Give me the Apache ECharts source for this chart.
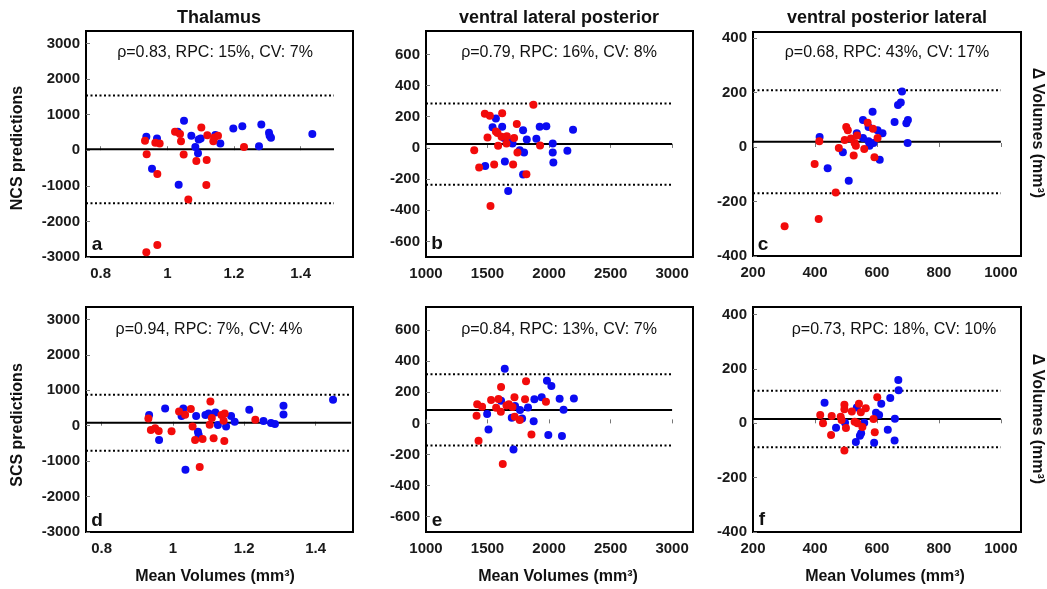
<!DOCTYPE html>
<html>
<head>
<meta charset="utf-8">
<title>Bland-Altman plots</title>
<style>
  html, body { margin: 0; padding: 0; background: #fff; }
  #main { width: 1047px; height: 589px; }
</style>
</head>
<body>
<div id="main"></div>
<script src="https://cdn.jsdelivr.net/npm/echarts@6/dist/echarts.min.js"></script>
<script>
  // tick labels
  let thalTicksX = [0.8, 1, 1.2, 1.4];
  let thalTicksY = [-3000, -2000, -1000, 0, 1000, 2000, 3000];
  let vlpTicksX = [1000, 1500, 2000, 2500, 3000];
  let vlpTicksY = [-600, -400, -200, 0, 200, 400, 600];
  let vplTicksX = [200, 400, 600, 800, 1000];
  let vplTicksY = [-400, -200, 0, 200, 400];

  // [mean, upper limit, lower limit]
  let aLines = [30, 1540, -1490];
  let bLines = [25, 285, -236];
  let cLines = [19, 208, -170];
  let dLines = [85, 875, -710];
  let eLines = [87, 316, -142];
  let fLines = [16, 120, -88];

  let stats = [
    'ρ=0.83, RPC: 15%, CV: 7%', 'ρ=0.79, RPC: 16%, CV: 8%', 'ρ=0.68, RPC: 43%, CV: 17%',
    'ρ=0.94, RPC: 7%, CV: 4%', 'ρ=0.84, RPC: 13%, CV: 7%', 'ρ=0.73, RPC: 18%, CV: 10%'
  ];
  let titles = ['Thalamus', 'ventral lateral posterior', 'ventral posterior lateral'];

  // panel a (NCS, thalamus)
  let aBlue = [[0.937,376],[0.969,329],[0.954,-517],[1.05,828],[1.034,-969],[1.031,520],[1.072,405],[1.084,94],
    [1.092,-84],[1.094,301],[1.10,329],[1.144,430],[1.159,188],[1.198,611],[1.225,677],[1.282,724],[1.275,113],
    [1.305,489],[1.307,405],[1.311,348],[1.435,455]];
  let aRed = [[0.933,263],[0.938,-113],[0.937,-2869],[0.964,207],[0.97,-668],[0.97,-2662],[0.977,188],[1.023,517],
    [1.038,455],[1.041,254],[1.049,-122],[1.063,-1383],[1.087,-301],[1.102,640],[1.118,-273],[1.117,-975],
    [1.12,423],[1.138,254],[1.141,357],[1.152,405],[1.23,94]];

  // panel b (NCS, VLP)
  let bBlue = [[1481,-116],[1541,133],[1568,189],[1619,135],[1635,64],[1641,-88],[1662,49],[1668,-277],[1703,28],
    [1762,-15],[1789,114],[1789,-171],[1797,-30],[1819,54],[1897,58],[1924,135],[1978,139],[2030,28],[2030,-30],
    [2035,-94],[2149,-19],[2195,116]];
  let bRed = [[1392,-15],[1432,-126],[1478,219],[1500,66],[1519,206],[1524,-373],[1554,-107],[1568,105],[1581,96],
    [1586,13],[1614,71],[1619,223],[1654,28],[1657,75],[1708,-107],[1716,64],[1738,154],[1743,-30],[1816,-169],
    [1873,277],[1927,15]];

  // panel c (NCS, VPL)
  let cBlue = [[415,37],[441,-78],[490,-19],[509,-124],[535,50],[555,99],[555,33],[573,73],[573,21],[576,5],
    [586,129],[589,15],[602,61],[609,-47],[618,50],[657,92],[668,154],[677,163],[681,204],[695,87],[700,99],[699,15]];
  let cRed = [[302,-291],[399,-62],[414,21],[412,-264],[467,-167],[477,-4],[496,26],[501,73],[506,61],[516,31],
    [525,-31],[528,15],[532,5],[536,42],[559,-7],[570,89],[587,67],[592,-38],[602,33]];

  // panel d (SCS, thalamus)
  let dBlue = [[0.933,301],[0.961,-403],[0.978,488],[1.024,273],[1.029,488],[1.035,-1241],[1.065,273],[1.07,-169],
    [1.072,-254],[1.091,301],[1.10,347],[1.119,375],[1.126,20],[1.149,-20],[1.163,273],[1.173,113],[1.214,451],
    [1.254,132],[1.275,76],[1.286,48],[1.31,564],[1.31,319],[1.449,733]];
  let dRed = [[0.931,206],[0.938,-122],[0.95,-75],[0.96,-150],[0.996,-160],[1.017,404],[1.034,310],[1.05,470],
    [1.055,-20],[1.062,-403],[1.075,-1165],[1.083,-376],[1.105,686],[1.103,28],[1.109,216],[1.114,-357],
    [1.136,301],[1.142,141],[1.144,-432],[1.145,347],[1.231,169]];

  // panel e (SCS, VLP)
  let eBlue = [[1640,352],[1497,60],[1508,-39],[1610,146],[1697,36],[1724,112],[1764,86],[1781,32],[1711,-168],
    [1829,103],[1875,13],[1881,155],[1940,168],[1983,275],[2019,241],[1994,-75],[2086,159],[2105,-82],[2118,88],
    [2202,161]];
  let eRed = [[1416,123],[1411,49],[1456,107],[1427,-112],[1529,150],[1589,157],[1570,101],[1610,234],[1608,75],
    [1624,-261],[1654,116],[1673,123],[1703,105],[1719,168],[1721,43],[1762,21],[1805,155],[1813,271],
    [1857,-71],[1975,139]];

  // panel f (SCS, VPL)
  let fBlue = [[431,76],[468,-16],[497,2],[532,-69],[535,58],[545,-46],[549,-37],[559,2],[591,-72],[597,39],
    [607,31],[614,72],[635,-24],[643,93],[658,17],[657,-63],[669,159],[670,122]];
  let fRed = [[417,31],[426,0],[454,27],[452,-43],[483,24],[486,12],[495,68],[495,52],[500,-17],[495,-100],
    [519,43],[528,6],[542,72],[548,41],[564,55],[537,0],[553,-14],[589,16],[593,-33],[601,96]];

  const FONT = '"Liberation Sans", Arial, Helvetica, sans-serif';
  const BLUE = '#0b0bf2';
  const RED = '#f20b0b';

  let panels = [
    { grid: { left: 86, top: 31, width: 267, height: 226 }, x: [0.756, 1.557], xEnd: 1.5, y: [-3000, 3350],
      xt: thalTicksX, yt: thalTicksY, blue: aBlue, red: aRed, lines: aLines },
    { grid: { left: 426, top: 31, width: 267, height: 226 }, x: [1000, 3170], xEnd: 3000, y: [-700, 750],
      xt: vlpTicksX, yt: vlpTicksY, blue: bBlue, red: bRed, lines: bLines },
    { grid: { left: 753, top: 32, width: 268, height: 224 }, x: [200, 1065], xEnd: 1000, y: [-400, 422],
      xt: vplTicksX, yt: vplTicksY, blue: cBlue, red: cRed, lines: cLines },
    { grid: { left: 86, top: 307, width: 267, height: 225 }, x: [0.756, 1.505], xEnd: 1.5, y: [-3000, 3350],
      xt: thalTicksX, yt: thalTicksY, blue: dBlue, red: dRed, lines: dLines },
    { grid: { left: 426, top: 307, width: 267, height: 225 }, x: [1000, 3170], xEnd: 3000, y: [-700, 750],
      xt: vlpTicksX, yt: vlpTicksY, blue: eBlue, red: eRed, lines: eLines },
    { grid: { left: 753, top: 307, width: 268, height: 225 }, x: [200, 1065], xEnd: 1000, y: [-400, 428],
      xt: vplTicksX, yt: vplTicksY, blue: fBlue, red: fRed, lines: fLines }
  ];

  let plain = v => String(v);
  let grids = [], xAxes = [], yAxes = [], series = [];
  panels.forEach((p, i) => {
    grids.push(Object.assign({ show: true, borderColor: '#000', borderWidth: 2, backgroundColor: 'transparent' }, p.grid));
    let labelStyle = { fontFamily: FONT, fontSize: 15, fontWeight: 'bold', color: '#1a1a1a', formatter: plain };
    xAxes.push({
      gridIndex: i, type: 'value', min: p.x[0], max: p.x[1],
      axisLine: { show: false }, splitLine: { show: false },
      axisTick: { show: true, inside: true, length: 4, customValues: p.xt, lineStyle: { color: '#777' } },
      axisLabel: Object.assign({ customValues: p.xt, margin: 9 }, labelStyle)
    });
    yAxes.push({
      gridIndex: i, type: 'value', min: p.y[0], max: p.y[1],
      axisLine: { show: false }, splitLine: { show: false },
      axisTick: { show: true, inside: true, length: 4, customValues: p.yt, lineStyle: { color: '#777' } },
      axisLabel: Object.assign({ customValues: p.yt, margin: 6 }, labelStyle)
    });
    let x0 = p.x[0];
    let mkLine = (v, dotted) => ({
      type: 'line', xAxisIndex: i, yAxisIndex: i, symbol: 'none', silent: true,
      data: [[x0, v], [p.xEnd, v]],
      lineStyle: { color: '#000', width: 2, type: dotted ? [2, 2.5] : 'solid' }, z: 1
    });
    series.push(mkLine(p.lines[0], false), mkLine(p.lines[1], true), mkLine(p.lines[2], true));
    series.push({ type: 'scatter', xAxisIndex: i, yAxisIndex: i, data: p.blue, symbolSize: 8,
      itemStyle: { color: BLUE, opacity: 1 }, z: 3 });
    series.push({ type: 'scatter', xAxisIndex: i, yAxisIndex: i, data: p.red, symbolSize: 8,
      itemStyle: { color: RED, opacity: 1 }, z: 4 });
  });

  let txt = (x, y, text, size, weight, rot) => ({
    type: 'text', x: x, y: y, rotation: rot || 0, silent: true,
    style: { text: text, fontFamily: FONT, fontSize: size, fontWeight: weight, fill: '#111',
      align: 'center', verticalAlign: 'middle' }
  });

  let graphics = [];
  let colCenter = [219, 559, 887];
  titles.forEach((t, k) => graphics.push(txt(colCenter[k], 18, t, 18, 'bold')));
  let statPos = [[215, 53], [559, 53], [887, 53], [209, 330], [559, 330], [894, 330]];
  stats.forEach((s, k) => graphics.push(txt(statPos[k][0], statPos[k][1], s, 16, 'normal')));
  let letters = ['a', 'b', 'c', 'd', 'e', 'f'];
  let letterPos = [[97, 245], [437, 244], [763, 245], [97, 521], [437, 521], [762, 520]];
  letters.forEach((l, k) => graphics.push(txt(letterPos[k][0], letterPos[k][1], l, 19, 'bold')));
  graphics.push(txt(18, 148, 'NCS predictions', 16, 'bold', Math.PI / 2));
  graphics.push(txt(18, 425, 'SCS predictions', 16, 'bold', Math.PI / 2));
  graphics.push(txt(1037, 133, 'Δ Volumes (mm³)', 16, 'bold', -Math.PI / 2));
  graphics.push(txt(1037, 419, 'Δ Volumes (mm³)', 16, 'bold', -Math.PI / 2));
  [215, 558, 885].forEach(cx => graphics.push(txt(cx, 577, 'Mean Volumes (mm³)', 16, 'bold')));

  var myChart = echarts.init(document.getElementById('main'));
  myChart.setOption({
    animation: false,
    grid: grids,
    xAxis: xAxes,
    yAxis: yAxes,
    series: series,
    graphic: graphics
  });
</script>
</body>
</html>
